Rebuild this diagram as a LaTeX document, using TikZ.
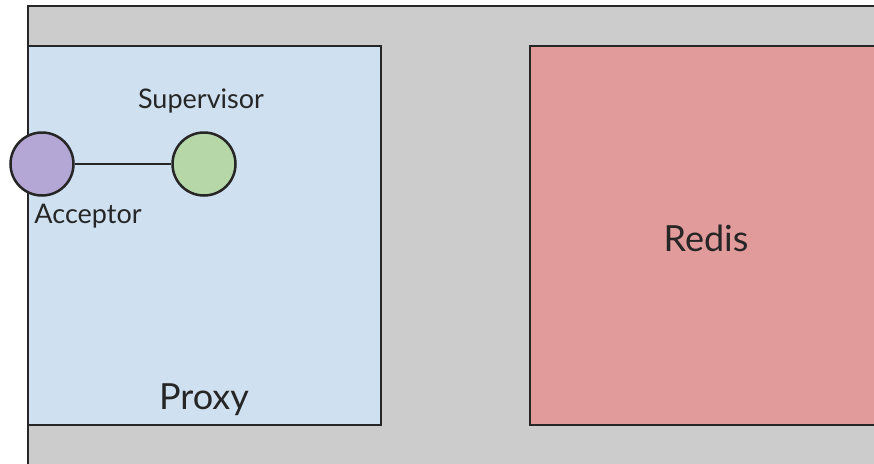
\documentclass[tikz,border=0pt]{standalone}
\usepackage{fontspec}
\setmainfont{Lato}
\begin{document}
\begin{tikzpicture}[x=1pt,y=-1pt,
  box/.style={draw=black!85,line width=2.5pt},
  ball/.style={circle,draw=black!85,line width=2.5pt,minimum size=63pt,inner sep=0pt},
  lbl/.style={inner sep=0pt,text=black!85}]
  \definecolor{bg}{HTML}{CCCCCC}
  \definecolor{proxyc}{HTML}{CFE0F0}
  \definecolor{redisc}{HTML}{E19B9B}
  \definecolor{accc}{HTML}{B4A7D6}
  \definecolor{supc}{HTML}{B6D7A8}
  \useasboundingbox (0,0) rectangle (874,463);
  \fill[white] (0,0) rectangle (874,463);
  % outer canvas
  \filldraw[fill=bg,box] (28,6) rectangle (900,490);
  % proxy and redis blocks
  \filldraw[fill=proxyc,box] (28,46) rectangle (381,425);
  \filldraw[fill=redisc,box] (530,46) rectangle (900,425);
  % processes
  \node[ball,fill=accc] (acc) at (42,164) {};
  \node[ball,fill=supc] (sup) at (204,164) {};
  \draw[line width=2.5pt,black!85] (acc) -- (sup);
  % labels
  \node[lbl,font=\fontsize{27}{32}\selectfont] (suplbl) at (201,101) {Supervisor};
  \node[lbl,font=\fontsize{27}{32}\selectfont] (acclbl) at (88,216) {Acceptor};
  \node[lbl,font=\fontsize{36}{42}\selectfont] (proxylbl) at (204,400) {Proxy};
  \node[lbl,font=\fontsize{36}{42}\selectfont] (redislbl) at (706,238) {Redis};
\end{tikzpicture}
\end{document}
